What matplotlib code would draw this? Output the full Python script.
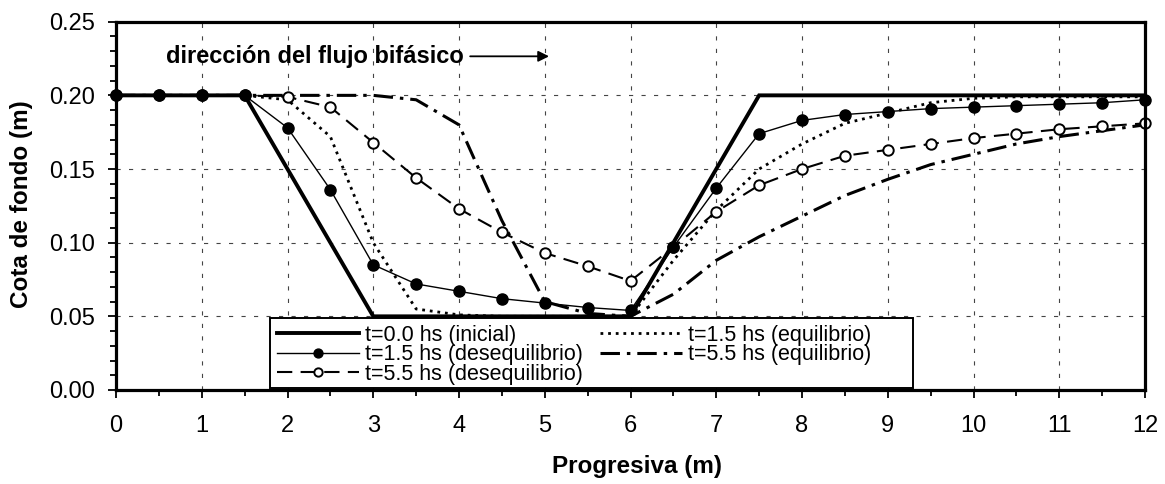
import matplotlib
matplotlib.use("Agg")
import matplotlib.pyplot as plt
from matplotlib.ticker import MultipleLocator, FormatStrFormatter
from matplotlib.patches import Rectangle

plt.rcParams['font.family'] = ['Liberation Sans', 'DejaVu Sans']
plt.rcParams['lines.scale_dashes'] = False

# ---- data ----
x_init = [0, 1.5, 3, 6, 7.5, 12]
y_init = [0.20, 0.20, 0.05, 0.05, 0.20, 0.20]

x_prog = [0, 0.5, 1, 1.5, 2, 2.5, 3, 3.5, 4, 4.5, 5, 5.5, 6,
          6.5, 7, 7.5, 8, 8.5, 9, 9.5, 10, 10.5, 11, 11.5, 12]

y_deseq_15 = [0.200, 0.200, 0.200, 0.200, 0.178, 0.136, 0.085, 0.072, 0.067,
              0.062, 0.059, 0.056, 0.054, 0.097, 0.137, 0.174, 0.183, 0.187,
              0.189, 0.191, 0.192, 0.193, 0.194, 0.195, 0.197]

y_deseq_55 = [0.200, 0.200, 0.200, 0.200, 0.199, 0.192, 0.168, 0.144, 0.123,
              0.107, 0.093, 0.084, 0.074, 0.097, 0.121, 0.139, 0.150, 0.159,
              0.163, 0.167, 0.171, 0.174, 0.177, 0.179, 0.181]

y_eq_15 = [0.200, 0.200, 0.200, 0.200, 0.197, 0.172, 0.100, 0.055, 0.051,
           0.050, 0.050, 0.050, 0.050, 0.088, 0.122, 0.150, 0.167, 0.181,
           0.188, 0.195, 0.198, 0.199, 0.199, 0.199, 0.199]

y_eq_55 = [0.200, 0.200, 0.200, 0.200, 0.200, 0.200, 0.200, 0.197, 0.180,
           0.115, 0.060, 0.052, 0.050, 0.065, 0.088, 0.104, 0.118, 0.132,
           0.143, 0.153, 0.160, 0.167, 0.172, 0.176, 0.180]

labels = ["t=0.0 hs (inicial)", "t=1.5 hs (desequilibrio)",
          "t=5.5 hs (desequilibrio)", "t=1.5 hs (equilibrio)",
          "t=5.5 hs (equilibrio)"]

xticks = list(range(0, 13))
yticks = [0.00, 0.05, 0.10, 0.15, 0.20, 0.25]

# ---- figure ----
W, H = 1165, 484
fig = plt.figure(figsize=(W / 100, H / 100), dpi=100)
L, R, T, B = 116, 1145, 21.7, 390
ax = fig.add_axes([L / W, 1 - B / H, (R - L) / W, (B - T) / H])

ax.set_xlim(0, 12)
ax.set_ylim(0, 0.25)

# grid
for gx in xticks[1:-1]:
    ax.axvline(gx, color='#444444', lw=0.8, dashes=(3, 6), zorder=1)
for gy in yticks[1:-1]:
    ax.axhline(gy, color='#444444', lw=0.8, dashes=(3, 6), zorder=1)

h0, = ax.plot(x_init, y_init, color='black', lw=2.8, solid_joinstyle='miter',
              zorder=3, label=labels[0])
h4, = ax.plot(x_prog, y_eq_55, color='black', lw=2.2,
              dashes=(14, 5, 2.5, 5), zorder=3, label=labels[4])
h3, = ax.plot(x_prog, y_eq_15, color='black', lw=2.0,
              dashes=(2, 3.5), zorder=3, label=labels[3])
h2, = ax.plot(x_prog, y_deseq_55, color='black', lw=1.5, dashes=(11, 6),
              marker='o', ms=7.5, mfc='white', mec='black', mew=1.4,
              zorder=4, clip_on=False, label=labels[2])
h1, = ax.plot(x_prog, y_deseq_15, color='black', lw=1.0,
              marker='o', ms=8, mfc='black', mec='black',
              zorder=5, clip_on=False, label=labels[1])

# axes styling
for s in ax.spines.values():
    s.set_linewidth(2.3)
    s.set_zorder(8)
ax.xaxis.set_major_locator(MultipleLocator(1))
ax.xaxis.set_minor_locator(MultipleLocator(0.5))
ax.yaxis.set_major_locator(MultipleLocator(0.05))
ax.yaxis.set_minor_locator(MultipleLocator(0.01))
ax.yaxis.set_major_formatter(FormatStrFormatter('%.2f'))
ax.tick_params(axis='both', which='major', direction='out', length=6,
               width=1.3, labelsize=17)
ax.tick_params(axis='y', which='major', pad=9)
ax.tick_params(axis='x', which='major', pad=12)
ax.tick_params(axis='both', which='minor', direction='out', length=4,
               width=1.3)
ax.set_xticks(xticks)
ax.set_yticks(yticks)

fig.text(637 / W, 1 - 466 / H, "Progresiva (m)", ha='center', va='center',
         fontsize=17.5, fontweight='bold')
fig.text(22 / W, 1 - 204 / H, "Cota de fondo (m)", ha='center', va='center',
         rotation=90, fontsize=17.5, fontweight='bold')

# annotation
ax.text(0.58, 0.2265, "dirección del flujo bifásico", ha='left', va='center',
        fontsize=17, fontweight='bold')
ax.annotate("", xy=(5.05, 0.2265), xytext=(4.13, 0.2265),
            arrowprops=dict(arrowstyle='-|>', color='black', lw=1.3,
                            mutation_scale=16, shrinkA=0, shrinkB=0))

# legend box (drawn as a patch in figure pixels) and legend entries
bx0, bx1, by0, by1 = 270, 913, 318, 388
box = Rectangle((bx0 / W, 1 - by1 / H), (bx1 - bx0) / W, (by1 - by0) / H,
                transform=fig.transFigure, facecolor='white',
                edgecolor='black', lw=1.4, zorder=6)
ax.add_patch(box)
box.set_clip_on(False)

leg = ax.legend([h0, h1, h2, h3, h4], labels, ncol=2, loc='upper left',
                bbox_to_anchor=(277 / W, 1 - 325 / H),
                bbox_transform=fig.transFigure,
                fontsize=15.5, frameon=False, borderaxespad=0,
                handlelength=3.8, handletextpad=0.28, columnspacing=0.8,
                labelspacing=-0.08, borderpad=0, markerscale=0.8,
                numpoints=1)
leg.set_zorder(7)

fig.savefig("out.png", dpi=100, facecolor='white')
